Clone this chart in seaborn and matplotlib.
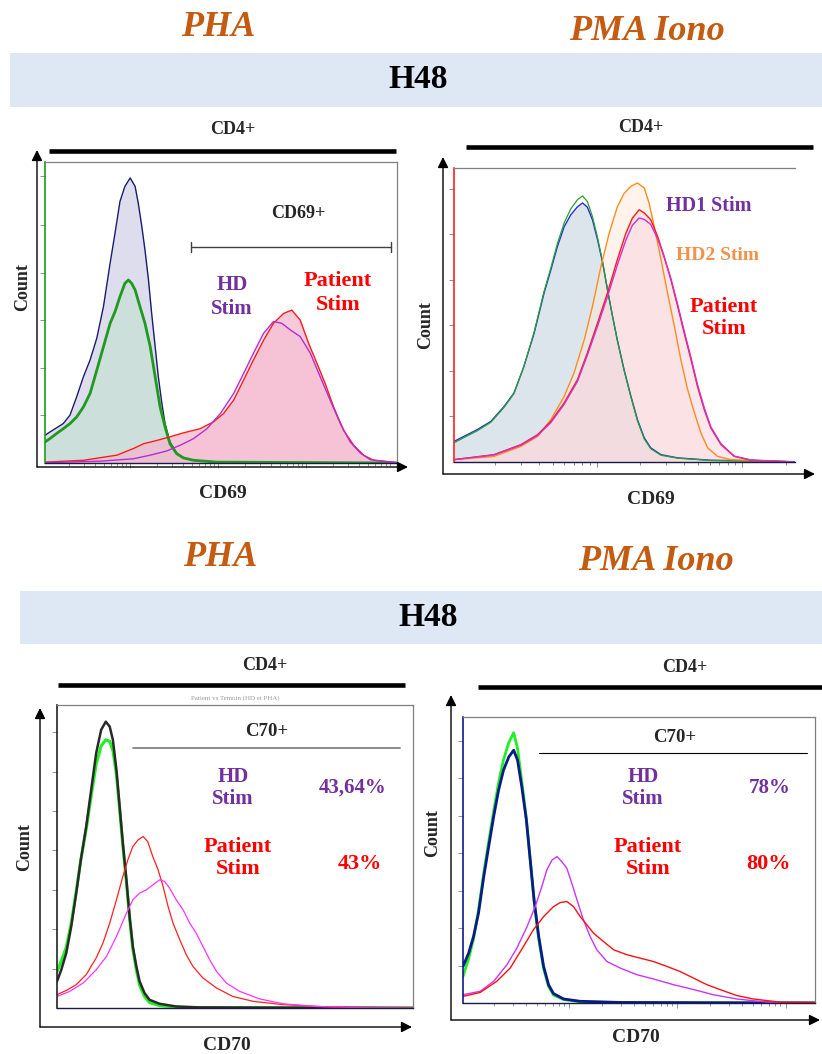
import numpy as np
import matplotlib
matplotlib.use("Agg")
import matplotlib.pyplot as plt
import seaborn as sns
from matplotlib.patches import Rectangle

# -------------------------------
# Data (axis units 0-100)
# -------------------------------
# Panel 1: PHA, CD69
p1_navy_x = [0, 1.4, 3.3, 5.2, 7.1, 9.0, 10.9, 12.8, 14.7, 16.6, 18.5, 19.9, 21.3, 22.7, 24.2, 25.6, 26.5, 27.5, 28.4, 29.4, 30.3, 31.3, 32.2, 33.2, 34.1, 35.5, 37.4, 39.3, 42.2, 48.8, 63.0, 100]
p1_navy_y = [9.2, 10.3, 11.7, 13.1, 15.9, 22.0, 28.6, 34.2, 41.4, 51.9, 66.4, 76.4, 86.9, 91.9, 94.7, 91.9, 86.3, 78.6, 70.8, 60.8, 49.7, 38.6, 28.6, 19.8, 13.1, 7.0, 3.3, 1.8, 0.9, 0.3, 0.1, 0]
p1_green_x = [0, 1.4, 3.3, 5.2, 7.1, 9.0, 10.9, 12.8, 14.7, 16.6, 18.5, 19.9, 21.3, 22.7, 23.7, 24.6, 25.6, 27.0, 28.4, 29.9, 31.3, 32.7, 34.1, 35.5, 37.4, 39.3, 42.2, 48.8, 100]
p1_green_y = [7.0, 8.1, 9.8, 11.4, 13.1, 15.3, 18.6, 23.1, 30.8, 38.6, 46.4, 50.3, 55.3, 59.7, 60.8, 59.7, 57.5, 51.9, 46.4, 38.6, 28.6, 18.6, 12.0, 6.4, 3.1, 1.7, 0.9, 0.3, 0]
p1_red_x = [0, 10.9, 20.4, 25.1, 28.0, 31.8, 35.5, 39.3, 44.1, 47.9, 50.7, 53.6, 56.4, 59.2, 62.1, 64.9, 67.8, 70.1, 72.5, 74.9, 77.3, 79.6, 82.0, 84.8, 87.7, 90.5, 93.4, 100]
p1_red_y = [0.3, 0.9, 2.6, 4.8, 6.4, 7.5, 8.7, 10.0, 11.4, 13.7, 16.4, 20.9, 27.5, 34.2, 40.8, 46.4, 49.7, 50.8, 47.5, 39.7, 33.0, 26.4, 18.6, 10.9, 5.9, 2.6, 0.9, 0.1]
p1_purple_x = [0, 15.6, 25.1, 29.9, 34.6, 38.4, 42.2, 46.0, 49.8, 53.6, 56.4, 59.2, 62.1, 64.9, 67.3, 69.7, 72.5, 75.4, 78.2, 81.0, 83.9, 86.7, 89.6, 92.4, 100]
p1_purple_y = [0.1, 0.6, 1.4, 2.6, 4.0, 5.9, 8.1, 11.4, 16.4, 23.1, 29.7, 36.4, 43.1, 47.0, 46.4, 44.2, 42.0, 36.4, 28.6, 20.9, 13.1, 7.0, 3.3, 1.1, 0.1]

# Panel 2: PMA Iono, CD69
p2_unst_x = [0, 2.9, 6.8, 10.8, 14.7, 17.6, 20.5, 23.5, 26.4, 28.4, 30.3, 32.3, 34.2, 36.2, 37.7, 39.1, 40.6, 42.1, 43.6, 45.0, 46.5, 47.9, 49.9, 51.9, 53.8, 55.8, 57.7, 60.7, 65.6, 75.3, 100]
p2_blue_y = [7.0, 8.7, 11.0, 13.8, 18.9, 23.5, 32.5, 43.8, 57.4, 65.3, 73.2, 80.0, 84.0, 86.8, 88.1, 86.7, 82.4, 75.6, 67.7, 58.6, 49.5, 41.5, 31.3, 22.3, 14.4, 8.2, 4.8, 2.5, 1.4, 0.6, 0.1]
p2_green_y = [6.5, 8.3, 10.6, 13.5, 18.6, 23.3, 32.5, 44.2, 58.0, 66.0, 74.2, 81.3, 86.0, 89.2, 90.5, 88.6, 83.5, 76.3, 68.0, 58.8, 49.5, 41.3, 31.0, 22.0, 14.0, 7.8, 4.5, 2.3, 1.3, 0.5, 0.1]
p2_orange_x = [0, 11.7, 19.6, 24.5, 28.4, 32.3, 35.2, 38.2, 40.6, 43.1, 45.5, 47.9, 49.9, 51.9, 53.8, 55.8, 57.2, 58.7, 60.7, 62.6, 64.6, 66.5, 68.5, 70.5, 72.4, 74.4, 77.3, 81.2, 100]
p2_orange_y = [0.8, 1.9, 5.3, 8.7, 14.4, 22.3, 30.3, 41.6, 52.9, 66.5, 77.8, 86.8, 91.4, 93.8, 94.9, 93.2, 88.1, 80.2, 68.9, 57.6, 46.3, 34.9, 24.7, 16.8, 9.9, 4.8, 1.9, 0.8, 0]
p2_stim_x = [0, 11.7, 19.6, 24.5, 28.4, 32.3, 36.2, 39.1, 42.1, 45.0, 47.9, 50.4, 52.3, 54.3, 55.8, 57.7, 59.7, 61.6, 63.6, 65.6, 67.5, 69.5, 71.4, 73.4, 75.3, 78.3, 82.2, 87.1, 100]
p2_red_y = [0.8, 2.5, 5.9, 9.3, 13.8, 20.1, 28.0, 37.1, 47.3, 57.5, 68.8, 77.8, 82.9, 85.8, 84.7, 82.4, 76.8, 70.0, 62.0, 52.9, 43.9, 34.8, 25.7, 17.8, 11.6, 5.9, 1.9, 0.6, 0]
p2_purple_y = [0.8, 2.4, 5.7, 9.0, 13.4, 19.6, 27.4, 36.3, 46.2, 56.2, 67.0, 75.5, 80.5, 83.0, 82.5, 80.8, 76.0, 69.8, 62.5, 53.5, 44.6, 35.5, 26.4, 18.4, 12.0, 6.2, 2.0, 0.7, 0]

# Panel 3: PHA, CD70
p3_unst_x = [0, 1.2, 2.6, 4.0, 5.4, 6.7, 8.2, 9.6, 11.0, 12.4, 13.7, 14.8, 15.7, 16.7, 17.6, 18.5, 19.5, 20.4, 21.3, 22.3, 23.2, 24.6, 26.0, 28.8, 33.5, 40.1, 100]
p3_black_y = [8.8, 12.6, 18.1, 26.9, 37.9, 48.9, 59.9, 72.0, 84.1, 91.8, 94.5, 92.9, 88.5, 78.6, 66.5, 54.4, 42.3, 30.2, 20.3, 13.7, 8.8, 4.9, 2.7, 1.4, 0.5, 0.2, 0]
p3_green_y = [12.0, 15.5, 20.0, 28.0, 38.5, 49.0, 59.0, 70.0, 80.5, 86.5, 88.5, 88.0, 85.0, 77.0, 65.5, 53.5, 41.5, 29.5, 19.5, 12.5, 7.5, 3.8, 1.8, 0.8, 0.3, 0.1, 0]
p3_red_x = [0, 2.6, 5.4, 8.2, 11.0, 12.9, 14.8, 16.7, 18.5, 19.9, 21.3, 22.8, 24.2, 25.5, 26.9, 28.4, 29.8, 31.2, 32.6, 34.5, 36.3, 38.2, 41.0, 44.8, 49.4, 55.1, 63.5, 77.5, 100]
p3_red_y = [4.4, 5.8, 7.7, 11.0, 16.5, 21.4, 28.0, 35.7, 43.4, 48.9, 53.3, 55.5, 56.6, 54.9, 50.0, 45.6, 40.1, 33.5, 28.0, 22.5, 17.6, 13.7, 9.9, 6.6, 3.8, 2.2, 1.1, 0.3, 0]
p3_mag_x = [0, 3.6, 7.3, 11.0, 13.9, 16.7, 19.5, 21.3, 23.2, 25.1, 27.0, 28.8, 30.2, 31.6, 33.5, 35.4, 37.3, 39.1, 41.0, 42.9, 44.8, 47.6, 51.3, 56.9, 63.5, 72.8, 86.9, 100]
p3_mag_y = [3.8, 5.5, 8.2, 12.6, 17.0, 23.6, 31.3, 35.7, 37.9, 39.0, 40.7, 42.3, 41.8, 39.6, 35.7, 32.4, 28.0, 24.7, 20.3, 15.9, 12.1, 8.2, 5.5, 3.0, 1.4, 0.5, 0.1, 0]

# Panel 4: PMA Iono, CD70
p4_unst_x = [0, 1.6, 3.0, 4.4, 5.9, 7.3, 8.7, 10.1, 11.5, 13.0, 14.4, 15.5, 16.7, 18.0, 19.1, 20.2, 21.5, 22.9, 24.3, 25.7, 28.6, 33.3, 44.7, 100]
p4_navy_y = [12.8, 17.4, 23.3, 31.4, 44.2, 54.7, 65.1, 74.4, 81.4, 86.0, 88.4, 84.9, 75.6, 64.0, 50.0, 36.0, 23.3, 12.8, 6.4, 3.3, 1.4, 0.6, 0.2, 0]
p4_green_y = [9.3, 15.5, 22.5, 32.5, 45.5, 56.5, 67.0, 77.0, 85.0, 91.0, 94.5, 89.0, 77.5, 64.5, 50.0, 35.5, 22.5, 12.0, 5.8, 2.8, 1.2, 0.4, 0.1, 0]
p4_mag_x = [0, 4.9, 8.7, 12.5, 15.3, 18.2, 20.5, 22.4, 23.8, 25.3, 26.7, 28.1, 29.5, 30.9, 32.4, 34.2, 36.1, 38.0, 40.9, 44.7, 49.4, 54.1, 59.8, 65.5, 71.1, 77.8, 87.2, 100]
p4_mag_y = [2.9, 4.1, 7.6, 13.4, 19.2, 26.7, 33.7, 40.7, 46.5, 50.0, 51.2, 49.4, 47.1, 41.9, 36.0, 29.1, 23.3, 18.6, 14.5, 12.2, 9.9, 8.4, 6.4, 4.7, 2.9, 1.4, 0.2, 0]
p4_red_x = [0, 4.9, 9.6, 13.4, 17.2, 20.0, 22.9, 25.7, 27.6, 29.5, 31.4, 33.3, 35.2, 37.1, 39.9, 42.8, 46.5, 50.3, 54.1, 57.9, 61.7, 65.5, 69.3, 73.0, 77.8, 82.5, 90.1, 100]
p4_red_y = [2.3, 3.7, 7.6, 12.2, 19.8, 25.6, 30.2, 33.7, 35.1, 35.5, 33.7, 30.2, 27.3, 24.4, 21.5, 18.6, 16.9, 15.7, 14.5, 12.8, 11.0, 8.7, 6.4, 4.7, 2.6, 1.4, 0.3, 0.2]

stim_titles = ["PHA", "PMA Iono"]
pct_hd = ["43,64%", "78%"]
pct_patient = ["43%", "80%"]

# -------------------------------
# Theme / figure
# -------------------------------
sns.set_style("white")
plt.rcParams["font.family"] = ["Liberation Serif", "DejaVu Serif"]
plt.rcParams["font.weight"] = "bold"

W, H = 822, 1054
fig = plt.figure(figsize=(W / 100, H / 100), dpi=100)

PURPLE = "#7030A0"
RED = "#FF0000"
ORANGE_T = "#C55A11"


def panel(box, left_color, right_spine=True):
    l, t, r, b = box
    ax = fig.add_axes([l / W, 1 - b / H, (r - l) / W, (b - t) / H])
    ax.set_xlim(0, 100)
    ax.set_ylim(0, 100)
    ax.set_facecolor("none")
    for s in ["top", "right"]:
        ax.spines[s].set_color("#7f7f7f")
        ax.spines[s].set_linewidth(0.9)
    ax.spines["right"].set_visible(right_spine)
    ax.spines["left"].set_color(left_color)
    ax.spines["left"].set_linewidth(1.2)
    ax.spines["bottom"].set_color("#1a1a4a")
    ax.spines["bottom"].set_linewidth(1.0)
    ax.tick_params(which="both", direction="out", color="#808080", width=0.6,
                   labelbottom=False, labelleft=False, left=True, bottom=True)
    ax.tick_params(which="major", length=3.5)
    ax.tick_params(which="minor", length=2)
    ax.set_xlabel("")
    ax.set_ylabel("")
    return ax


def curve(ax, x, y, color, lw, fill=None, alpha=1.0):
    if fill is not None:
        ax.fill_between(x, y, color=fill, alpha=alpha, lw=0)
    sns.lineplot(x=x, y=y, ax=ax, color=color, lw=lw, sort=False, legend=False)


def log_minor(start, decade, n):
    out = []
    for d in range(n):
        for k in range(2, 10):
            v = start + decade * (d + np.log10(k))
            if 0 < v < 100:
                out.append(v)
    return out


# ---- Panel 1
ax1 = panel((45, 162, 397, 463), "#1E9B1E")
curve(ax1, p1_navy_x, p1_navy_y, "#1A1A6E", 1.0, "#D8D8EA", 0.85)
curve(ax1, p1_green_x, p1_green_y, "#1E9B1E", 2.0, "#C7E0D2", 0.7)
curve(ax1, p1_red_x, p1_red_y, "#FF1A1A", 1.0, "#F5B8CF", 0.75)
curve(ax1, p1_purple_x, p1_purple_y, "#B030D0", 1.0, "#F5B8CF", 0.35)
ax1.set_xticks([24.2, 49.2, 74.2])
ax1.set_xticks(log_minor(-0.8, 25, 5), minor=True)
ax1.set_yticks([15.9, 31.4, 47.5, 63.0, 79.1, 95.2])
ax1.set_xlim(0, 100)

# ---- Panel 2
ax2 = panel((454, 168, 795, 462), "#FF2020", right_spine=False)
curve(ax2, p2_unst_x, p2_blue_y, "#2030E0", 1.0, "#D9E3EA", 0.9)
curve(ax2, p2_unst_x, p2_green_y, "#2CA02C", 0.9)
curve(ax2, p2_orange_x, p2_orange_y, "#FF8C1A", 1.0, "#FFE9DA", 0.5)
curve(ax2, p2_stim_x, p2_red_y, "#FF1A1A", 1.0, "#F9D3DF", 0.5)
curve(ax2, p2_stim_x, p2_purple_y, "#CC33CC", 1.0)
ax2.set_xticks([41.8, 84.4])
ax2.set_xticks(log_minor(-0.8, 42.6, 3), minor=True)
ax2.set_yticks([15.5, 31.0, 46.5, 62.0, 77.5, 93.0])
ax2.set_xlim(0, 100)

# ---- Panel 3
ax3 = panel((57, 705, 413, 1008), "#222222")
curve(ax3, p3_unst_x, p3_green_y, "#22EE22", 2.2)
curve(ax3, p3_unst_x, p3_black_y, "#2A2A2A", 1.8)
curve(ax3, p3_red_x, p3_red_y, "#FF2020", 0.9)
curve(ax3, p3_mag_x, p3_mag_y, "#FF33FF", 0.9)
ax3.set_xticks([])
ax3.set_yticks([13, 26, 39, 52, 65, 78, 91])

# ---- Panel 4
ax4 = panel((463, 717, 815, 1003), "#0A1A8A")
curve(ax4, p4_unst_x, p4_green_y, "#22EE22", 2.0)
curve(ax4, p4_unst_x, p4_navy_y, "#0A1A8A", 2.0)
curve(ax4, p4_mag_x, p4_mag_y, "#CC33FF", 1.0)
curve(ax4, p4_red_x, p4_red_y, "#FF1010", 1.0)
ax4.set_xticks([30.2, 60.7, 91.7])
ax4.set_xticks(log_minor(-0.5, 30.7, 4), minor=True)
ax4.set_yticks([13.1, 26.2, 39.3, 52.4, 65.5, 78.6, 91.7])
ax4.set_xlim(0, 100)

# -------------------------------
# Overlay: headings, bands, arrows, labels (pixel coordinates)
# -------------------------------
ov = fig.add_axes([0, 0, 1, 1], zorder=10)
ov.set_xlim(0, W)
ov.set_ylim(H, 0)
ov.axis("off")
ov.set_facecolor("none")

# title rows
for (y, xs, band) in [(28, (218, 647), (10, 53, 822, 107)),
                      (558, (220, 656), (20, 591, 822, 644))]:
    for txt, x in zip(stim_titles, xs):
        ov.text(x, y + (4 if txt != "PHA" else 0), txt, ha="center", va="center",
                fontsize=26, fontstyle="italic", fontweight="bold", color=ORANGE_T)
    bl, bt, br, bb = band
    ov.add_patch(Rectangle((bl, bt), br - bl, bb - bt, color="#DEE8F4", lw=0, zorder=0))
    ov.text((418 if y < 300 else 428), (bt + bb) / 2, "H48", ha="center", va="center",
            fontsize=24, fontweight="bold", color="black")

# CD4+ headers and thick bars
for (x, y, x1, x2, yb) in [(233, 129, 49, 396, 151), (641, 128, 466, 813, 147),
                           (265, 666, 58, 405, 685), (685, 667, 478, 822, 687)]:
    ov.text(x, y, "CD4+", ha="center", va="center", fontsize=13, fontweight="bold")
    ov.plot([x1, x2], [yb, yb], color="black", lw=3.3, solid_capstyle="butt")

# axis arrows
arrow = dict(arrowstyle="-|>", color="black", lw=1.0, mutation_scale=16, shrinkA=0, shrinkB=0)
for (ox, oy, ty, tx) in [(37, 467, 150, 408), (443, 474, 157, 815),
                         (40, 1027, 708, 412), (451, 1020, 695, 820)]:
    ov.annotate("", xy=(ox, ty), xytext=(ox, oy), arrowprops=arrow)
    ov.annotate("", xy=(tx, oy), xytext=(ox, oy), arrowprops=arrow)

# axis labels
for (x, y) in [(23, 287), (426, 325), (25, 847), (433, 833)]:
    ov.text(x, y, "Count", rotation=90, ha="center", va="center", fontsize=13, fontweight="bold")
for (x, y, s) in [(223, 493, "CD69"), (651, 500, "CD69"), (227, 1045, "CD70"), (636, 1038, "CD70")]:
    ov.text(x, y, s, ha="center", va="center", fontsize=14, fontweight="bold")

# gates
ov.text(298, 213, "CD69+", ha="center", va="center", fontsize=13, fontweight="bold")
ov.plot([191, 391], [247, 247], color="#404040", lw=1.0)
ov.plot([191, 191], [242, 252], color="#404040", lw=1.0)
ov.plot([391, 391], [242, 252], color="#404040", lw=1.0)
ov.text(267, 732, "C70+", ha="center", va="center", fontsize=13.5, fontweight="bold")
ov.plot([133, 400], [748, 748], color="#808080", lw=1.3)
ov.text(675, 737, "C70+", ha="center", va="center", fontsize=13.5, fontweight="bold")
ov.plot([539, 807], [753, 753], color="black", lw=0.8)
ov.text(235, 698, "Patient vs Temoin (HD et PHA)", ha="center", va="center",
        fontsize=5, fontweight="normal", color="#9a9a9a")

# curve labels
ov.text(232, 297, "HD\nStim", ha="center", va="center", fontsize=15, color=PURPLE, linespacing=1.2)
ov.text(338, 293, "Patient\nStim", ha="center", va="center", fontsize=16, color=RED, linespacing=1.2)
ov.text(709, 206, "HD1 Stim", ha="center", va="center", fontsize=14.5, color=PURPLE)
ov.text(717, 255, "HD2 Stim", ha="center", va="center", fontsize=14, color="#F4904A")
ov.text(724, 318, "Patient\nStim", ha="center", va="center", fontsize=16, color=RED, linespacing=1.2)

for i, (xh, xp, xv) in enumerate([(233, 238, 353), (643, 648, 770)]):
    ov.text(xh, 788, "HD\nStim", ha="center", va="center", fontsize=15, color=PURPLE, linespacing=1.2)
    ov.text(xp, 858, "Patient\nStim", ha="center", va="center", fontsize=16, color=RED, linespacing=1.2)
    ov.text(xv, 788, pct_hd[i], ha="center", va="center", fontsize=15, color=PURPLE)
    ov.text(xv + (7 if i == 0 else -2), 864, pct_patient[i], ha="center", va="center",
            fontsize=16, color=RED)

fig.savefig("out.png", dpi=100)
